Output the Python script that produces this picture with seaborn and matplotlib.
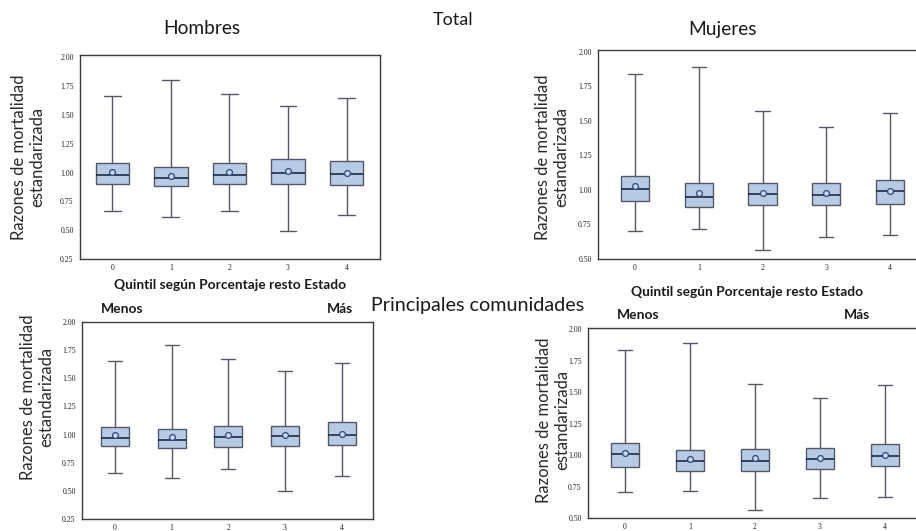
import numpy as np
import pandas as pd
import seaborn as sns
import matplotlib.pyplot as plt
from matplotlib.ticker import FormatStrFormatter

quintiles = ["0", "1", "2", "3", "4"]

# Total - Hombres
hom_low = [0.670, 0.615, 0.670, 0.496, 0.635]
hom_q1 = [0.905, 0.881, 0.905, 0.905, 0.896]
hom_med = [0.983, 0.951, 0.983, 1.000, 0.986]
hom_q3 = [1.079, 1.044, 1.084, 1.119, 1.102]
hom_high = [1.667, 1.806, 1.684, 1.577, 1.646]
hom_mean = [1.009, 0.974, 1.003, 1.012, 0.997]

# Total - Mujeres
muj_low = [0.703, 0.715, 0.568, 0.662, 0.674]
muj_q1 = [0.923, 0.874, 0.889, 0.889, 0.896]
muj_med = [1.010, 0.947, 0.971, 0.961, 0.990]
muj_q3 = [1.101, 1.048, 1.051, 1.048, 1.072]
muj_high = [1.841, 1.889, 1.568, 1.457, 1.558]
muj_mean = [1.031, 0.978, 0.981, 0.978, 0.995]

# Principales comunidades - Hombres
pch_low = [0.663, 0.616, 0.690, 0.497, 0.633]
pch_q1 = [0.895, 0.880, 0.892, 0.895, 0.910]
pch_med = [0.969, 0.951, 0.978, 0.987, 0.993]
pch_q3 = [1.067, 1.046, 1.076, 1.079, 1.109]
pch_high = [1.655, 1.798, 1.673, 1.563, 1.638]
pch_mean = [0.993, 0.978, 0.999, 0.993, 1.008]

# Principales comunidades - Mujeres
pcm_low = [0.704, 0.715, 0.566, 0.662, 0.670]
pcm_q1 = [0.903, 0.873, 0.871, 0.887, 0.913]
pcm_med = [1.006, 0.951, 0.951, 0.969, 0.995]
pcm_q3 = [1.099, 1.038, 1.049, 1.059, 1.088]
pcm_high = [1.836, 1.886, 1.563, 1.452, 1.555]
pcm_mean = [1.019, 0.972, 0.977, 0.980, 1.003]

yticks_a = [0.25, 0.50, 0.75, 1.00, 1.25, 1.50, 1.75, 2.00]
yticks_b = [0.50, 0.75, 1.00, 1.25, 1.50, 1.75, 2.00]

BOX_FILL = "#b7cbe4"
EDGE = "#525866"
MEDIAN = "#1f2b40"
MEAN_EDGE = "#2b4a7e"
SPINE = "#3c3c3c"

sns.set_style("white")
plt.rcParams["font.family"] = ["Lato", "DejaVu Sans"]

W, H = 916, 531
fig = plt.figure(figsize=(W / 100, H / 100), dpi=100)


def px_axes(left, top, right, bottom):
    return fig.add_axes([left / W, 1 - bottom / H, (right - left) / W, (bottom - top) / H])


def five_number_frame(low, q1, med, q3, high):
    rows = []
    for q, vals in zip(quintiles, zip(low, q1, med, q3, high)):
        for v in vals:
            rows.append({"quintil": q, "rme": v})
    return pd.DataFrame(rows)


def draw_panel(ax, low, q1, med, q3, high, mean, width, ylim, xlim, yticks):
    df = five_number_frame(low, q1, med, q3, high)
    sns.boxplot(
        data=df, x="quintil", y="rme", order=quintiles, whis=(0, 100),
        width=width, color=BOX_FILL, saturation=1, linecolor=EDGE, linewidth=1.0,
        medianprops=dict(color=MEDIAN, linewidth=1.2), ax=ax,
    )
    sns.pointplot(
        x=quintiles, y=mean, order=quintiles, linestyle="none", marker="o",
        markersize=4.2, color=MEAN_EDGE, markerfacecolor="#c9d8ec",
        markeredgewidth=0.9, errorbar=None, ax=ax, zorder=6,
    )
    ax.set_xlim(*xlim)
    ax.set_ylim(*ylim)
    ax.set_yticks(yticks)
    ax.yaxis.set_major_formatter(FormatStrFormatter("%.2f"))
    ax.set_xlabel("")
    ax.set_ylabel("")
    for s in ax.spines.values():
        s.set_visible(True)
        s.set_color(SPINE)
        s.set_linewidth(1.0)
    ax.tick_params(axis="y", direction="out", length=3, width=0.8, color=SPINE, pad=1.5)
    ax.tick_params(axis="x", direction="inout", length=4, width=0.8, color=SPINE, pad=1.5)
    for lab in ax.get_xticklabels() + ax.get_yticklabels():
        lab.set_fontfamily("Liberation Serif")
        lab.set_fontsize(5.6)
        lab.set_color("#222222")


ylabel = "Razones de mortalidad\nestandarizada"
xlabel = "Quintil según Porcentaje resto Estado"

# Top-left: Total, Hombres
ax1 = px_axes(80, 55, 380, 259)
draw_panel(ax1, hom_low, hom_q1, hom_med, hom_q3, hom_high, hom_mean,
           0.57, (0.25, 2.02), (-0.55, 4.57), yticks_a)

# Top-right: Total, Mujeres
ax2 = px_axes(598, 50, 927, 259)
draw_panel(ax2, muj_low, muj_q1, muj_med, muj_q3, muj_high, muj_mean,
           0.44, (0.50, 2.012), (-0.58, 4.58), yticks_b)

# Bottom-left: Principales comunidades, Hombres
ax3 = px_axes(82, 322, 373, 519)
draw_panel(ax3, pch_low, pch_q1, pch_med, pch_q3, pch_high, pch_mean,
           0.49, (0.25, 2.0), (-0.58, 4.55), yticks_a)

# Bottom-right: Principales comunidades, Mujeres
ax4 = px_axes(588, 328, 922, 518)
draw_panel(ax4, pcm_low, pcm_q1, pcm_med, pcm_q3, pcm_high, pcm_mean,
           0.42, (0.50, 2.008), (-0.57, 4.57), yticks_b)


def ftext(x, y, s, **kw):
    fig.text(x / W, 1 - y / H, s, ha="center", va="center", **kw)


# Section and panel titles
ftext(453, 20, "Total", fontsize=13, color="#1a1a1a")
ftext(202, 29, "Hombres", fontsize=13.8, color="#1a1a1a")
ftext(722, 30, "Mujeres", fontsize=13.8, color="#1a1a1a")
ftext(478, 305, "Principales comunidades", fontsize=14.2, color="#1a1a1a")

# Y axis labels
for x, y in [(28, 157), (552, 157), (37, 397), (553, 420)]:
    ftext(x, y, ylabel, rotation=90, fontsize=12, color="#2a2a2a", linespacing=1.2)

# X axis labels
ftext(230, 285, xlabel, fontsize=9.9, fontweight="bold", color="#1a1a1a")
ftext(747, 292, xlabel, fontsize=9.9, fontweight="bold", color="#1a1a1a")

# Direction labels over the lower panels
ftext(122, 309, "Menos", fontsize=10, fontweight="bold", color="#1a1a1a")
ftext(340, 309, "Más", fontsize=10, fontweight="bold", color="#1a1a1a")
ftext(638, 315, "Menos", fontsize=10, fontweight="bold", color="#1a1a1a")
ftext(857, 315, "Más", fontsize=10, fontweight="bold", color="#1a1a1a")

fig.savefig("out.png", dpi=100)
